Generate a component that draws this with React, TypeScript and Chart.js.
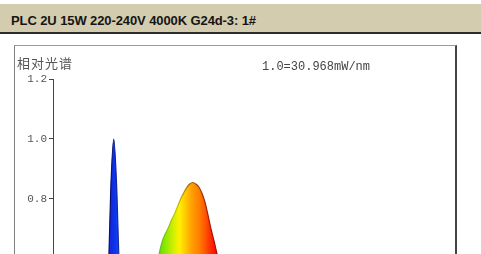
import React, { useEffect, useRef } from "react";
import { Chart, registerables } from "chart.js";

Chart.register(...registerables);

const HEADER_TEXT = "PLC 2U 15W 220-240V 4000K G24d-3: 1#";
const Y_TITLE = "相对光谱";
const NOTE = "1.0=30.968mW/nm";

const wavelengths = [
  380, 385, 390, 395, 400, 405, 410, 415, 420, 425,
  430, 435, 440, 445, 450, 455, 460, 465, 470, 475,
  480, 485, 490, 495, 500, 505, 510, 515, 520, 525,
  530, 535, 540, 545, 550, 555, 560, 565, 570, 575,
  580, 585, 590, 595, 600, 605, 610, 615, 620, 625,
  630, 635, 640, 645, 650, 655, 660, 665, 670, 675,
  680, 685, 690, 695, 700, 710, 720, 730, 740, 750,
  760, 770, 780,
];

const relative = [
  0.0, 0.0, 0.005, 0.005, 0.008, 0.01, 0.015, 0.02, 0.035, 0.06,
  0.11, 0.22, 0.46, 0.83, 1.0, 0.83, 0.5, 0.31, 0.23, 0.19,
  0.18, 0.19, 0.22, 0.26, 0.31, 0.36, 0.42, 0.48, 0.55, 0.62,
  0.66, 0.685, 0.705, 0.73, 0.75, 0.775, 0.8, 0.82, 0.838, 0.85,
  0.855, 0.85, 0.84, 0.82, 0.79, 0.747, 0.7, 0.66, 0.615, 0.57,
  0.52, 0.47, 0.42, 0.37, 0.32, 0.28, 0.24, 0.21, 0.18, 0.15,
  0.13, 0.11, 0.09, 0.08, 0.065, 0.045, 0.03, 0.02, 0.014, 0.01,
  0.007, 0.005, 0.003,
];

const yTicks = [0, 0.2, 0.4, 0.6, 0.8, 1.0, 1.2];
const xTicks = [400, 500, 600, 700, 800, 900, 1000];

// colour stops along wavelength (style)
const fillStops: [number, string][] = [
  [380, "#4020b0"],
  [430, "#2a24d4"],
  [445, "#1428dc"],
  [452, "#0c34ec"],
  [460, "#1450f4"],
  [475, "#00a0ff"],
  [495, "#00e0d0"],
  [510, "#20f060"],
  [522, "#50e010"],
  [535, "#90e800"],
  [548, "#d0f000"],
  [558, "#fff000"],
  [568, "#ffc800"],
  [578, "#ffa000"],
  [590, "#ff8000"],
  [600, "#ff5800"],
  [610, "#ff2800"],
  [622, "#ff0000"],
  [700, "#d00000"],
  [780, "#a00000"],
];
const lineStops: [number, string][] = [
  [380, "#201060"],
  [445, "#0a1070"],
  [460, "#1830b0"],
  [520, "#50c020"],
  [555, "#d0c000"],
  [575, "#a06010"],
  [590, "#904010"],
  [610, "#a01808"],
  [640, "#900000"],
  [780, "#700000"],
];

function makeGradient(chart: any, stops: [number, string][]) {
  const { ctx, chartArea, scales } = chart;
  if (!chartArea) return "#888";
  const x0 = scales.x.getPixelForValue(380);
  const x1 = scales.x.getPixelForValue(780);
  const g = ctx.createLinearGradient(x0, 0, x1, 0);
  stops.forEach(([wl, c]) => g.addColorStop((wl - 380) / 400, c));
  return g;
}

const textPlugin = {
  id: "spectrumTexts",
  afterDraw(chart: any) {
    const c = chart.ctx;
    c.save();
    c.textBaseline = "middle";
    c.fillStyle = "#555";
    c.font = '13px "Noto Sans CJK SC", sans-serif';
    try {
      (c as any).letterSpacing = "1px";
    } catch (e) {}
    c.fillText(Y_TITLE, 2, 16);
    try {
      (c as any).letterSpacing = "0px";
    } catch (e) {}
    c.fillStyle = "#444";
    c.font = '12px "Liberation Mono", monospace';
    c.fillText(NOTE, 247, 20);
    c.restore();
  },
};

export default function App() {
  const ref = useRef<HTMLCanvasElement | null>(null);

  useEffect(() => {
    if (!ref.current) return;
    const points = wavelengths.map((w, i) => ({ x: w, y: relative[i] }));
    const chart = new Chart(ref.current, {
      type: "line",
      data: {
        datasets: [
          {
            data: points,
            fill: "origin",
            backgroundColor: (ctx: any) => makeGradient(ctx.chart, fillStops),
            borderColor: (ctx: any) => makeGradient(ctx.chart, lineStops),
            borderWidth: 1.2,
            pointRadius: 0,
            cubicInterpolationMode: "monotone",
          },
        ],
      },
      options: {
        animation: false,
        responsive: false,
        devicePixelRatio: 1,
        layout: {
          autoPadding: false,
          padding: { left: 0, right: 7, top: 32, bottom: 8 },
        },
        plugins: {
          legend: { display: false },
          tooltip: { enabled: false },
          title: { display: false },
        },
        scales: {
          x: {
            type: "linear",
            min: 350,
            max: 1000,
            afterBuildTicks: (s: any) => {
              s.ticks = xTicks.map((v) => ({ value: v }));
            },
            afterFit: (s: any) => {
              s.height = 30;
              s.paddingLeft = 0;
              s.paddingRight = 0;
            },
            grid: {
              display: true,
              drawOnChartArea: false,
              drawTicks: true,
              tickLength: 4,
              color: "#444",
            },
            border: { display: true, color: "#444", width: 1 },
            ticks: {
              display: false,
            },
          },
          y: {
            min: 0,
            max: 1.2,
            afterBuildTicks: (s: any) => {
              s.ticks = yTicks.map((v) => ({ value: v }));
            },
            afterFit: (s: any) => {
              s.width = 38;
            },
            grid: {
              display: true,
              drawOnChartArea: false,
              drawTicks: true,
              tickLength: 4,
              color: "#444",
            },
            border: { display: true, color: "#444", width: 1 },
            ticks: {
              padding: 2,
              color: "#555",
              font: { family: '"Liberation Mono", monospace', size: 11 },
              callback: (v: any) => Number(v).toFixed(1),
            },
          },
        },
      },
      plugins: [textPlugin],
    } as any);
    return () => chart.destroy();
  }, []);

  return (
    <div
      style={{
        position: "fixed",
        left: 0,
        top: 0,
        width: 481,
        height: 254,
        overflow: "hidden",
        background: "#fff",
      }}
    >
      <div
        style={{
          position: "absolute",
          left: 0,
          top: 4,
          width: 481,
          height: 28,
          background: "#d3ccaf",
          borderBottom: "2px solid #2e2c28",
        }}
      />
      <div
        style={{
          position: "absolute",
          left: 11,
          top: 13,
          height: 15,
          lineHeight: "15px",
          fontFamily: '"Liberation Sans", Arial, sans-serif',
          fontWeight: "bold",
          fontSize: 13,
          letterSpacing: "-0.1px",
          color: "#151515",
          whiteSpace: "nowrap",
        }}
      >
        {HEADER_TEXT}
      </div>
      <div
        style={{
          position: "absolute",
          left: 14,
          top: 45,
          width: 440,
          height: 300,
          borderTop: "1px solid #9a9a9a",
          borderLeft: "1px solid #808080",
          borderRight: "2px solid #444",
        }}
      />
      <canvas
        ref={ref}
        width={440}
        height={430}
        style={{ position: "absolute", left: 15, top: 47, width: 440, height: 430 }}
      />
    </div>
  );
}
